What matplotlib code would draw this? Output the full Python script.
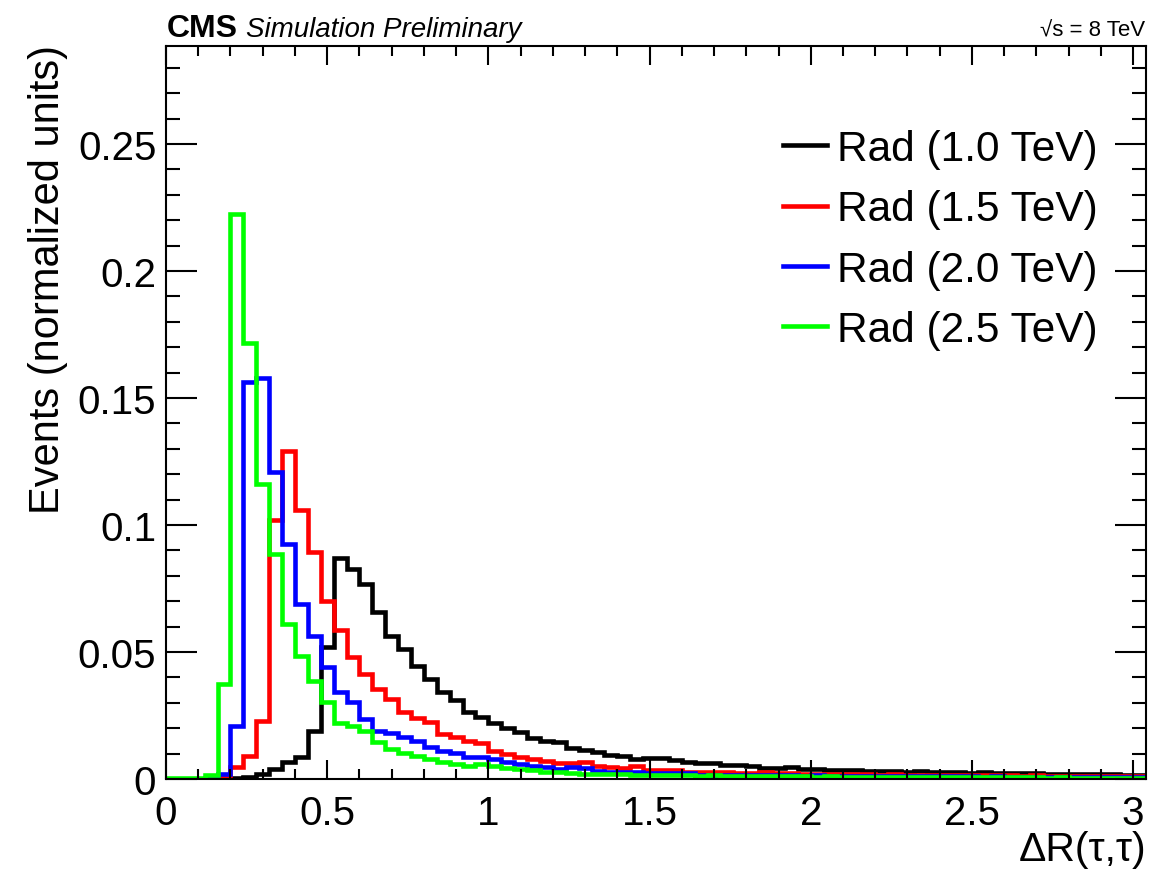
import numpy as np
import matplotlib
matplotlib.use("Agg")
import matplotlib.pyplot as plt
from matplotlib.ticker import MultipleLocator, FormatStrFormatter

plt.rcParams['font.family'] = ['Liberation Sans', 'DejaVu Sans']

# histogram binning: 76 bins of width 0.04 from 0
edges = np.arange(77) * 0.04

labels = ["Rad (1.0 TeV)", "Rad (1.5 TeV)", "Rad (2.0 TeV)", "Rad (2.5 TeV)"]
colors = ["#000000", "#ff0000", "#0000ff", "#00ff00"]

rad_1000 = [0, 0, 0, 0, 0, 0.0003, 0.0008, 0.0020, 0.0040, 0.0065,
            0.0088, 0.0190, 0.0518, 0.0870, 0.0827, 0.0768, 0.0659, 0.0564, 0.0512, 0.0446,
            0.0394, 0.0341, 0.0312, 0.0265, 0.0246, 0.0220, 0.0200, 0.0187, 0.0160, 0.0151,
            0.0144, 0.0122, 0.0115, 0.0105, 0.0094, 0.0089, 0.0079, 0.0081, 0.0081, 0.0075,
            0.0066, 0.0062, 0.0062, 0.0055, 0.0055, 0.0052, 0.0043, 0.0043, 0.0046, 0.0040,
            0.0038, 0.0036, 0.0035, 0.0034, 0.0032, 0.0031, 0.0030, 0.0029, 0.0031, 0.0028,
            0.0027, 0.0026, 0.0025, 0.0027, 0.0024, 0.0023, 0.0022, 0.0023, 0.0021, 0.0020,
            0.0021, 0.0019, 0.0018, 0.0019, 0.0017, 0.0017]

rad_1500 = [0, 0, 0, 0, 0.0010, 0.0046, 0.0090, 0.0229, 0.1020, 0.1293,
            0.1060, 0.0895, 0.0700, 0.0585, 0.0482, 0.0413, 0.0354, 0.0315, 0.0262, 0.0239,
            0.0223, 0.0177, 0.0164, 0.0151, 0.0140, 0.0112, 0.0097, 0.0086, 0.0077, 0.0072,
            0.0062, 0.0063, 0.0066, 0.0050, 0.0046, 0.0043, 0.0050, 0.0037, 0.0037, 0.0037,
            0.0026, 0.0029, 0.0029, 0.0029, 0.0024, 0.0024, 0.0026, 0.0022, 0.0023, 0.0021,
            0.0020, 0.0021, 0.0019, 0.0018, 0.0019, 0.0017, 0.0018, 0.0016, 0.0017, 0.0016,
            0.0015, 0.0016, 0.0015, 0.0014, 0.0015, 0.0014, 0.0013, 0.0014, 0.0013, 0.0012,
            0.0013, 0.0012, 0.0012, 0.0011, 0.0012, 0.0011]

rad_2000 = [0, 0, 0, 0, 0.0020, 0.0210, 0.1565, 0.1580, 0.1210, 0.0927,
            0.0688, 0.0563, 0.0440, 0.0344, 0.0302, 0.0236, 0.0190, 0.0180, 0.0164, 0.0151,
            0.0125, 0.0109, 0.0101, 0.0087, 0.0087, 0.0078, 0.0066, 0.0060, 0.0052, 0.0046,
            0.0039, 0.0046, 0.0042, 0.0033, 0.0029, 0.0026, 0.0028, 0.0024, 0.0024, 0.0024,
            0.0022, 0.0016, 0.0017, 0.0016, 0.0015, 0.0016, 0.0014, 0.0015, 0.0014, 0.0013,
            0.0014, 0.0013, 0.0012, 0.0013, 0.0012, 0.0011, 0.0012, 0.0011, 0.0011, 0.0010,
            0.0011, 0.0010, 0.0010, 0.0009, 0.0010, 0.0009, 0.0009, 0.0008, 0.0009, 0.0008,
            0.0008, 0.0008, 0.0007, 0.0008, 0.0007, 0.0007]

rad_2500 = [0.0003, 0.0003, 0.0003, 0.0015, 0.0373, 0.2226, 0.1715, 0.1160, 0.0884, 0.0610,
            0.0486, 0.0387, 0.0303, 0.0220, 0.0208, 0.0190, 0.0144, 0.0118, 0.0101, 0.0089,
            0.0079, 0.0066, 0.0059, 0.0052, 0.0060, 0.0050, 0.0043, 0.0038, 0.0034, 0.0029,
            0.0026, 0.0024, 0.0020, 0.0020, 0.0021, 0.0019, 0.0016, 0.0016, 0.0015, 0.0016,
            0.0014, 0.0013, 0.0014, 0.0012, 0.0012, 0.0011, 0.0012, 0.0011, 0.0010, 0.0010,
            0.0009, 0.0010, 0.0009, 0.0009, 0.0008, 0.0009, 0.0008, 0.0008, 0.0007, 0.0008,
            0.0007, 0.0007, 0.0007, 0.0006, 0.0007, 0.0006, 0.0006, 0.0006, 0.0005, 0.0006,
            0.0005, 0.0005, 0.0005, 0.0005, 0.0004, 0.0004]

series = [rad_1000, rad_1500, rad_2000, rad_2500]

fig = plt.figure(figsize=(11.74, 8.70), dpi=100)
ax = fig.add_axes([166 / 1174, 1 - 780 / 870, (1146 - 166) / 1174, (780 - 47) / 870])

for vals, col, lab in zip(series, colors, labels):
    ax.stairs(vals, edges, color=col, lw=3.3, label=lab)

ax.set_xlim(0, 3.04)
ax.set_ylim(0, 0.2886)

ax.xaxis.set_major_locator(MultipleLocator(0.5))
ax.xaxis.set_minor_locator(MultipleLocator(0.1))
ax.yaxis.set_major_locator(MultipleLocator(0.05))
ax.yaxis.set_minor_locator(MultipleLocator(0.01))
ax.xaxis.set_major_formatter(FormatStrFormatter('%g'))
ax.yaxis.set_major_formatter(FormatStrFormatter('%g'))

ax.tick_params(which='both', direction='in', top=True, right=True, width=1.5,
               labelsize=29)
ax.tick_params(axis='x', which='major', length=14, pad=11)
ax.tick_params(axis='x', which='minor', length=7)
ax.tick_params(axis='y', which='major', length=22, pad=7)
ax.tick_params(axis='y', which='minor', length=10)
for sp in ax.spines.values():
    sp.set_linewidth(1.5)

fig.text(68 / 1174, 1 - 45 / 870, "Events (normalized units)", rotation=90,
         ha='right', va='top', fontsize=30)
fig.text(1146 / 1174, 1 - 861 / 870, "\u0394R(\u03c4,\u03c4)", ha='right',
         va='baseline', fontsize=29.5)

fig.text(167 / 1174, 1 - 37 / 870, "CMS", fontweight='bold', fontsize=23,
         ha='left', va='baseline')
fig.text(246 / 1174, 1 - 37 / 870, "Simulation Preliminary", style='italic',
         fontsize=20, ha='left', va='baseline')
fig.text(1145 / 1174, 1 - 36 / 870, "\u221as = 8 TeV", fontsize=16,
         ha='right', va='baseline')

ax.legend(loc='upper left', bbox_to_anchor=(783 / 1174, 1 - 130 / 870),
          bbox_transform=fig.transFigure, frameon=False, fontsize=30.5,
          handlelength=1.03, handletextpad=0.25, labelspacing=0.48,
          borderpad=0, borderaxespad=0)

fig.savefig("out.png", dpi=100)
